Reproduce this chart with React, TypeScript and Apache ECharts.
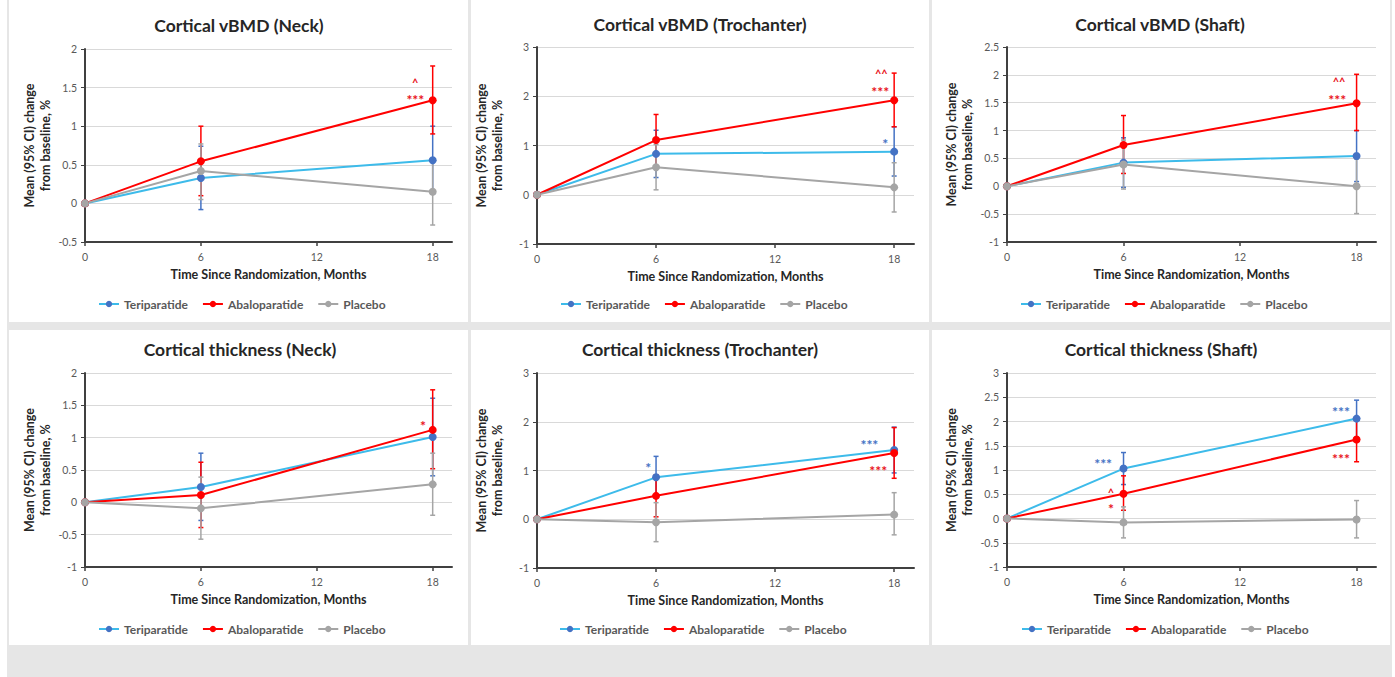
import React, { useEffect, useRef } from "react";
import * as echarts from "echarts";

// ---------- data ----------
const MONTHS = [0, 6, 18];
const CI_MONTHS = [6, 18];
const X_TICKS = [0, 6, 12, 18];
const SERIES_NAMES = ["Teriparatide", "Abaloparatide", "Placebo"];
const PANEL_TITLES = [
  "Cortical vBMD (Neck)",
  "Cortical vBMD (Trochanter)",
  "Cortical vBMD (Shaft)",
  "Cortical thickness (Neck)",
  "Cortical thickness (Trochanter)",
  "Cortical thickness (Shaft)",
];
const X_TITLE = "Time Since Randomization, Months";
const Y_TITLE = "Mean (95% CI) change\nfrom baseline, %";
const Y_MIN = [-0.5, -1, -1, -1, -1, -1];
const Y_MAX = [2, 3, 2.5, 2, 3, 3];
const Y_STEP = [0.5, 1, 0.5, 0.5, 1, 0.5];

// means at MONTHS, per panel
const TERI_MEAN = [
  [0, 0.33, 0.56],
  [0, 0.83, 0.875],
  [0, 0.425, 0.545],
  [0, 0.237, 1.01],
  [0, 0.86, 1.42],
  [0, 1.03, 2.06],
];
const ABALO_MEAN = [
  [0, 0.545, 1.335],
  [0, 1.11, 1.92],
  [0, 0.74, 1.49],
  [0, 0.113, 1.12],
  [0, 0.48, 1.36],
  [0, 0.51, 1.63],
];
const PLACEBO_MEAN = [
  [0, 0.42, 0.15],
  [0, 0.56, 0.15],
  [0, 0.39, 0.0],
  [0, -0.093, 0.278],
  [0, -0.06, 0.095],
  [0, -0.08, -0.02],
];

// 95% CI at CI_MONTHS, per panel
const TERI_LOW = [[-0.08, 0.12], [0.35, 0.38], [-0.02, 0.085], [-0.28, 0.41], [0.43, 0.95], [0.7, 1.67]];
const TERI_HIGH = [[0.74, 1.0], [1.31, 1.38], [0.87, 1.0], [0.76, 1.61], [1.29, 1.89], [1.36, 2.44]];
const ABALO_LOW = [[0.1, 0.9], [0.59, 1.38], [0.23, 1.0], [-0.39, 0.52], [0.05, 0.84], [0.17, 1.17]];
const ABALO_HIGH = [[1.0, 1.78], [1.63, 2.47], [1.27, 2.01], [0.62, 1.74], [0.91, 1.88], [0.88, 2.07]];
const PLACEBO_LOW = [[0.05, -0.28], [0.1, -0.35], [-0.05, -0.49], [-0.57, -0.2], [-0.46, -0.32], [-0.4, -0.4]];
const PLACEBO_HIGH = [[0.77, 0.58], [1.02, 0.65], [0.83, 0.49], [0.39, 0.76], [0.34, 0.545], [0.24, 0.37]];

// significance marks: [panel, month, value, text, seriesIndex]
const ANNOTATIONS: [number, number, number, string, number][] = [
  [0, 17.1, 1.4, "***", 1],
  [0, 17.1, 1.61, "^", 1],
  [1, 17.55, 1.12, "*", 0],
  [1, 17.3, 2.17, "***", 1],
  [1, 17.35, 2.52, "^^", 1],
  [2, 17.0, 1.63, "***", 1],
  [2, 17.1, 1.93, "^^", 1],
  [3, 17.5, 1.25, "*", 1],
  [4, 5.6, 1.14, "*", 0],
  [4, 16.75, 1.61, "***", 0],
  [4, 17.2, 1.08, "***", 1],
  [5, 4.95, 1.21, "***", 0],
  [5, 5.35, 0.6, "^", 1],
  [5, 5.35, 0.28, "*", 1],
  [5, 17.2, 2.28, "***", 0],
  [5, 17.2, 1.31, "***", 1],
];

// ---------- styling / layout ----------
const FONT = "Lato, 'Open Sans', sans-serif";
const LINE_COLORS = ["#3dbbea", "#ff0000", "#a5a5a5"];
const MARKER_COLORS = ["#4472c4", "#ff0000", "#a5a5a5"];
const MARK_COLORS = ["#4472c4", "#e8141c"];
const AXIS_COLOR = "#404040";
const LAYOUT = [
  { left: 85, top: 49, right: 452, bottom: 242, cx: 239, ty: 25, lx: 98, ly: 305 },
  { left: 537, top: 47, right: 914, bottom: 244, cx: 700, ty: 24, lx: 560, ly: 305 },
  { left: 1007, top: 47, right: 1376, bottom: 242, cx: 1160, ty: 24, lx: 1020, ly: 305 },
  { left: 85, top: 373, right: 452, bottom: 567, cx: 240, ty: 349, lx: 98, ly: 630 },
  { left: 537, top: 373, right: 914, bottom: 568, cx: 700, ty: 349, lx: 559, ly: 630 },
  { left: 1007, top: 373, right: 1376, bottom: 567, cx: 1161, ty: 349, lx: 1021, ly: 630 },
];
const PANEL_RECTS = [
  [9, 0, 459, 322],
  [471, 0, 458, 322],
  [932, 0, 458, 322],
  [9, 330, 459, 315],
  [471, 330, 458, 315],
  [932, 330, 458, 315],
];

function buildOption() {
  const means = [TERI_MEAN, ABALO_MEAN, PLACEBO_MEAN];
  const lows = [TERI_LOW, ABALO_LOW, PLACEBO_LOW];
  const highs = [TERI_HIGH, ABALO_HIGH, PLACEBO_HIGH];
  const grid: any[] = [];
  const xAxis: any[] = [];
  const yAxis: any[] = [];
  const legend: any[] = [];
  const series: any[] = [];
  const graphic: any[] = [];

  LAYOUT.forEach((L, i) => {
    grid.push({ left: L.left, top: L.top, width: L.right - L.left, height: L.bottom - L.top });
    xAxis.push({
      type: "value",
      gridIndex: i,
      min: 0,
      max: 19,
      interval: 6,
      axisLine: { onZero: false, lineStyle: { color: AXIS_COLOR, width: 2 } },
      axisTick: { show: true, length: 4, customValues: X_TICKS, lineStyle: { color: AXIS_COLOR, width: 1.5 } },
      axisLabel: {
        customValues: X_TICKS,
        color: "#595959",
        fontSize: 10.5,
        margin: 9,
        fontFamily: FONT,
        formatter: (v: number) => (v % 6 === 0 ? String(v) : ""),
      },
      splitLine: { show: false },
      name: X_TITLE,
      nameLocation: "middle",
      nameGap: 26,
      nameTextStyle: { fontWeight: "bold", fontSize: 12.5, color: "#262626", fontFamily: FONT },
    });
    yAxis.push({
      type: "value",
      gridIndex: i,
      min: Y_MIN[i],
      max: Y_MAX[i],
      interval: Y_STEP[i],
      axisLine: { show: true, onZero: false, lineStyle: { color: AXIS_COLOR, width: 2 } },
      axisTick: { show: true, length: 4, lineStyle: { color: AXIS_COLOR, width: 1 } },
      axisLabel: { color: "#595959", fontSize: 10.5, margin: 8, fontFamily: FONT },
      splitLine: { show: true, lineStyle: { color: "#d9d9d9", width: 1 } },
      name: Y_TITLE,
      nameLocation: "middle",
      nameRotate: 90,
      nameGap: 32,
      nameTextStyle: { fontWeight: "bold", fontSize: 12.5, lineHeight: 15.5, color: "#262626", fontFamily: FONT },
    });
    legend.push({
      data: SERIES_NAMES,
      left: L.lx,
      top: L.ly - 7,
      padding: 0,
      itemWidth: 20,
      itemHeight: 8,
      itemGap: 14,
      textStyle: { color: "#595959", fontSize: 12, fontFamily: FONT, fontWeight: "bold" },
    });

    SERIES_NAMES.forEach((name, s) => {
      const color = MARKER_COLORS[s];
      series.push({
        type: "custom",
        name: name + " 95% CI",
        xAxisIndex: i,
        yAxisIndex: i,
        silent: true,
        z: 2,
        encode: { x: 0, y: [1, 2] },
        data: CI_MONTHS.map((m, j) => [m, lows[s][i][j], highs[s][i][j]]),
        renderItem: (params: any, api: any) => {
          const x = api.value(0);
          const p1 = api.coord([x, api.value(1)]);
          const p2 = api.coord([x, api.value(2)]);
          const w = 2.5;
          const st = { stroke: color, lineWidth: 1.5 };
          return {
            type: "group",
            children: [
              { type: "line", shape: { x1: p1[0], y1: p1[1], x2: p2[0], y2: p2[1] }, style: st },
              { type: "line", shape: { x1: p1[0] - w, y1: p1[1], x2: p1[0] + w, y2: p1[1] }, style: st },
              { type: "line", shape: { x1: p2[0] - w, y1: p2[1], x2: p2[0] + w, y2: p2[1] }, style: st },
            ],
          };
        },
      });
    });

    SERIES_NAMES.forEach((name, s) => {
      series.push({
        type: "line",
        name,
        xAxisIndex: i,
        yAxisIndex: i,
        data: MONTHS.map((m, j) => [m, means[s][i][j]]),
        symbol: "circle",
        symbolSize: 8,
        showSymbol: true,
        lineStyle: { color: LINE_COLORS[s], width: 2 },
        itemStyle: { color: MARKER_COLORS[s] },
        z: 3,
      });
    });

    const marks = ANNOTATIONS.filter((a) => a[0] === i);
    series.push({
      type: "custom",
      name: "significance " + i,
      xAxisIndex: i,
      yAxisIndex: i,
      silent: true,
      z: 4,
      data: marks.map((a) => [a[1], a[2]]),
      renderItem: (params: any, api: any) => {
        const a = marks[params.dataIndex];
        const p = api.coord([api.value(0), api.value(1)]);
        const isStar = a[3].indexOf("*") >= 0;
        return {
          type: "text",
          x: p[0],
          y: p[1] + (isStar ? 4 : 3),
          style: {
            text: a[3],
            fill: MARK_COLORS[a[4]],
            fontSize: isStar ? 14 : 11,
            fontWeight: "bold",
            fontFamily: FONT,
            align: "center",
            verticalAlign: "middle",
          },
        };
      },
    });

    graphic.push({
      type: "text",
      x: L.cx,
      y: L.ty,
      z: 10,
      style: {
        text: PANEL_TITLES[i],
        fill: "#262626",
        fontSize: 17.5,
        fontWeight: "bold",
        fontFamily: FONT,
        align: "center",
        verticalAlign: "middle",
      },
    });
  });

  return {
    animation: false,
    backgroundColor: "transparent",
    grid,
    xAxis,
    yAxis,
    legend,
    series,
    graphic,
  };
}

export default function App() {
  const ref = useRef<HTMLDivElement>(null);
  useEffect(() => {
    if (!ref.current) return;
    const chart = echarts.init(ref.current, undefined, { renderer: "svg" });
    chart.setOption(buildOption() as any);
    return () => chart.dispose();
  }, []);
  return (
    <div style={{ position: "fixed", left: 0, top: 0, width: 1395, height: 677, background: "#ffffff" }}>
      <div style={{ position: "absolute", left: 7, top: 0, width: 1385, height: 677, background: "#e6e6e6" }} />
      {PANEL_RECTS.map((r, k) => (
        <div
          key={k}
          style={{ position: "absolute", left: r[0], top: r[1], width: r[2], height: r[3], background: "#ffffff" }}
        />
      ))}
      <div ref={ref} style={{ position: "absolute", left: 0, top: 0, width: 1395, height: 677 }} />
    </div>
  );
}
